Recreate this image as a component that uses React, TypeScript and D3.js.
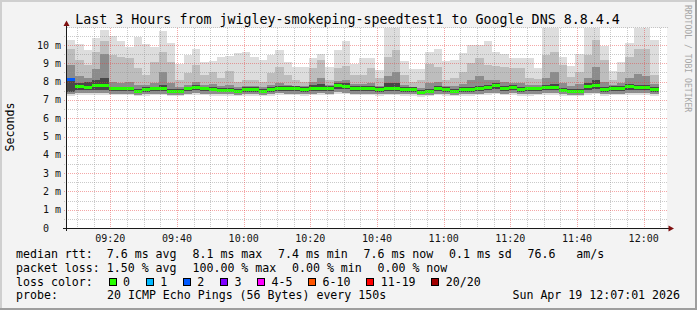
import React from "react";
import * as d3 from "d3";

const W = 697;
const H = 310;
const PLOT_LEFT = 67;
const PLOT_RIGHT = 667;
const PLOT_TOP = 28;
const PLOT_BOTTOM = 228;
const Y_MAX = 10.93;
const MONO = "'DejaVu Sans Mono', monospace";

const titleText = "Last 3 Hours from jwigley-smokeping-speedtest1 to Google DNS 8.8.4.4";
const yAxisTitle = "Seconds";
const watermark = "RRDTOOL / TOBI OETIKER";
const startTime = new Date(2026, 3, 19, 9, 7, 0);
const endTime = new Date(2026, 3, 19, 12, 7, 0);
const generatedAt = new Date(2026, 3, 19, 12, 7, 1);
const stepSeconds = 150;
const yTickValues = [0, 1, 2, 3, 4, 5, 6, 7, 8, 9, 10];

// median rtt (ms) per 150 s step
const medianRtt = [
  8.13, 7.76, 7.7, 7.78, 7.78, 7.6, 7.6, 7.6, 7.48, 7.56,
  7.6, 7.6, 7.48, 7.48, 7.6, 7.67, 7.6, 7.58, 7.54, 7.54,
  7.48, 7.56, 7.56, 7.48, 7.56, 7.65, 7.62, 7.62, 7.56, 7.62,
  7.65, 7.62, 7.81, 7.76, 7.62, 7.62, 7.62, 7.56, 7.62, 7.62,
  7.56, 7.56, 7.42, 7.48, 7.62, 7.56, 7.48, 7.56, 7.56, 7.62,
  7.67, 7.78, 7.62, 7.67, 7.56, 7.6, 7.6, 7.67, 7.67, 7.54,
  7.48, 7.48, 7.72, 7.78, 7.56, 7.62, 7.62, 7.72, 7.67, 7.67,
  7.56,
];
// highest ping of each step (outer smoke)
const pingTop = [
  10.27, 10.05, 9.72, 10.4, 10.82, 10.5, 10.24, 9.87, 10.42, 10.05,
  9.9, 10.76, 10.1, 8.96, 9.45, 9.78, 9.05, 9.1, 9.36, 9.41,
  9.54, 9.6, 9.36, 9.18, 9.45, 9.72, 9.09, 8.81, 8.81, 9.3,
  9.5, 8.81, 9.72, 10.2, 8.94, 9.3, 9.3, 8.63, 11.2, 11.2,
  9.1, 8.67, 8.67, 9.63, 9.78, 9.1, 9.18, 9.54, 10.0, 10.0,
  10.2, 9.6, 9.5, 9.3, 9.3, 9.27, 8.72, 11.2, 11.2, 9.36,
  8.87, 9.5, 11.2, 11.2, 9.97, 8.58, 9.05, 10.1, 11.2, 11.2,
  10.27,
];
// upper smoke boundary
const pingUpper = [
  9.8, 9.18, 8.9, 9.63, 10.24, 9.45, 9.36, 9.27, 8.72, 8.36,
  9.09, 9.63, 9.09, 8.09, 8.45, 8.9, 8.36, 8.54, 8.18, 8.58,
  8.0, 8.09, 8.09, 8.0, 8.45, 8.81, 8.36, 8.09, 8.0, 8.72,
  9.18, 8.09, 8.76, 8.87, 8.36, 8.36, 8.72, 8.18, 9.36, 9.72,
  8.36, 8.0, 8.09, 8.94, 8.81, 8.09, 8.18, 8.54, 9.0, 9.27,
  8.9, 8.87, 8.81, 8.72, 8.72, 8.18, 8.14, 9.45, 9.63, 8.9,
  8.27, 8.54, 9.45, 10.27, 9.18, 8.09, 8.54, 9.36, 9.8, 9.8,
  8.36,
];
// darker middle smoke boundary
const pingMid = [
  8.9, 8.3, 8.2, 8.7, 9.5, 8.0, 7.9, 8.0, 7.8, 7.8,
  7.9, 8.5, 7.9, 7.7, 7.8, 8.0, 7.8, 7.85, 7.75, 7.8,
  7.7, 7.75, 7.75, 7.7, 7.8, 7.9, 7.8, 7.78, 7.75, 8.0,
  8.2, 7.8, 8.05, 8.1, 7.85, 7.85, 7.9, 7.75, 8.3, 8.5,
  7.8, 7.72, 7.65, 7.9, 8.0, 7.75, 7.75, 7.85, 8.1, 8.3,
  8.1, 8.1, 8.0, 7.95, 7.95, 7.8, 7.8, 8.2, 8.5, 7.9,
  7.75, 7.85, 8.2, 8.8, 8.0, 7.8, 7.9, 8.2, 8.4, 8.3,
  7.85,
];
// darkest core top
const pingCore = [
  8.1, 7.95, 8.0, 8.1, 8.2, 7.72, 7.72, 7.72, 7.6, 7.68,
  7.72, 7.8, 7.6, 7.6, 7.72, 7.79, 7.72, 7.7, 7.66, 7.66,
  7.6, 7.68, 7.68, 7.6, 7.68, 7.77, 7.74, 7.74, 7.68, 7.8,
  7.85, 7.74, 7.95, 7.9, 7.74, 7.74, 7.74, 7.68, 7.9, 7.9,
  7.68, 7.68, 7.54, 7.6, 7.74, 7.68, 7.6, 7.68, 7.68, 7.76,
  7.8, 7.92, 7.76, 7.8, 7.7, 7.72, 7.72, 7.82, 7.85, 7.66,
  7.6, 7.62, 7.95, 8.1, 7.7, 7.74, 7.74, 7.85, 7.82, 7.82,
  7.68,
];
// darkest core bottom
const pingCoreLow = [
  7.45, 7.55, 7.52, 7.55, 7.55, 7.48, 7.48, 7.48, 7.38, 7.44,
  7.48, 7.48, 7.38, 7.38, 7.48, 7.52, 7.48, 7.46, 7.42, 7.42,
  7.38, 7.44, 7.44, 7.38, 7.44, 7.5, 7.48, 7.48, 7.44, 7.48,
  7.5, 7.48, 7.62, 7.58, 7.48, 7.48, 7.48, 7.44, 7.48, 7.48,
  7.44, 7.44, 7.34, 7.38, 7.48, 7.44, 7.38, 7.44, 7.44, 7.48,
  7.52, 7.6, 7.48, 7.52, 7.44, 7.46, 7.48, 7.52, 7.52, 7.42,
  7.38, 7.38, 7.56, 7.6, 7.44, 7.48, 7.48, 7.56, 7.52, 7.52,
  7.44,
];
// lower inner smoke boundary
const pingLowInner = [
  7.34, 7.38, 7.36, 7.38, 7.38, 7.34, 7.34, 7.34, 7.28, 7.32,
  7.34, 7.34, 7.28, 7.28, 7.34, 7.36, 7.34, 7.33, 7.31, 7.31,
  7.28, 7.32, 7.32, 7.28, 7.32, 7.36, 7.34, 7.34, 7.32, 7.34,
  7.36, 7.34, 7.42, 7.4, 7.34, 7.34, 7.34, 7.32, 7.34, 7.34,
  7.32, 7.32, 7.26, 7.28, 7.34, 7.32, 7.28, 7.32, 7.32, 7.34,
  7.36, 7.4, 7.34, 7.36, 7.32, 7.33, 7.34, 7.36, 7.36, 7.31,
  7.28, 7.28, 7.38, 7.4, 7.32, 7.34, 7.34, 7.38, 7.36, 7.36,
  7.32,
];
// lowest ping of each step
const pingBottom = [
  7.24, 7.28, 7.27, 7.28, 7.28, 7.25, 7.25, 7.25, 7.19, 7.23,
  7.25, 7.25, 7.19, 7.19, 7.25, 7.27, 7.25, 7.24, 7.22, 7.22,
  7.19, 7.23, 7.23, 7.19, 7.23, 7.27, 7.25, 7.25, 7.23, 7.25,
  7.27, 7.25, 7.32, 7.3, 7.25, 7.25, 7.25, 7.23, 7.25, 7.25,
  7.23, 7.23, 7.17, 7.19, 7.25, 7.23, 7.19, 7.23, 7.23, 7.25,
  7.27, 7.3, 7.25, 7.27, 7.23, 7.24, 7.25, 7.27, 7.27, 7.22,
  7.19, 7.19, 7.28, 7.3, 7.23, 7.25, 7.25, 7.28, 7.27, 7.27,
  7.23,
];
// lost pings (of 20) per step; last step has no data
const lossCount = [
  2, 0, 0, 0, 0, 0, 0, 0, 0, 0, 0, 0, 0, 0, 0, 0, 0, 0, 0, 0,
  0, 0, 0, 0, 0, 0, 0, 0, 0, 0, 0, 0, 0, 0, 0, 0, 0, 0, 0, 0,
  0, 0, 0, 0, 0, 0, 0, 0, 0, 0, 0, 0, 0, 0, 0, 0, 0, 0, 0, 0,
  0, 0, 0, 0, 0, 0, 0, 0, 0, 0, 0, 20,
];

const lossLabels = ["0", "1", "2", "3", "4-5", "6-10", "11-19", "20/20"];
const lossColors = ["#26ff00", "#00b8ff", "#0059ff", "#7e00ff", "#ff00ff", "#ff5500", "#ff0000", "#a10000"];
const lossBucketMax = [0, 1, 2, 3, 5, 10, 19, 20];

const legendRow1 = ["median rtt:  7.6 ms avg", "8.1 ms max", "7.4 ms min", "7.6 ms now", "0.1 ms sd", "76.6   am/s"];
const legendRow2 = ["packet loss: 1.50 % avg", "100.00 % max", "0.00 % min", "0.00 % now"];
const legendRow3Label = "loss color:";
const probeLabel = "probe:";
const probeText = "20 ICMP Echo Pings (56 Bytes) every 150s";

const smokeLayers = [
  { lo: pingBottom, hi: pingTop, color: "#dddddd" },
  { lo: pingLowInner, hi: pingUpper, color: "#bdbdbd" },
  { lo: pingLowInner, hi: pingMid, color: "#8c8c8c" },
  { lo: pingCoreLow, hi: pingCore, color: "#484848" },
];

const CW = 7; // legend char advance
const GAP = 15.5;
const LX = 16;

const pre = (s: string) => s.replace(/ /g, "\u00a0");

function lossColor(c: number) {
  const i = lossBucketMax.findIndex((m) => c <= m);
  return lossColors[i < 0 ? lossColors.length - 1 : i];
}

export default function App() {
  const x = d3.scaleTime().domain([startTime, endTime]).range([PLOT_LEFT, PLOT_RIGHT]);
  const y = d3.scaleLinear().domain([0, Y_MAX]).range([PLOT_BOTTOM, PLOT_TOP]);
  const stepT = (i: number) => new Date(startTime.getTime() + i * stepSeconds * 1000);

  const majorX = x.ticks(d3.timeMinute.every(20) as any);
  const minorX = x.ticks(d3.timeMinute.every(5) as any).filter((t: Date) => t.getMinutes() % 20 !== 0);
  const halfTicks = d3.range(0, 22).map((k) => k * 0.5).filter((v) => v <= Y_MAX);
  const majorY = halfTicks.filter((v) => v > 0 && Number.isInteger(v));
  const minorY = halfTicks.filter((v) => !Number.isInteger(v));
  const fmt = d3.timeFormat("%H:%M");
  const dateFmt = d3.timeFormat("%a %b %d %H:%M:%S %Y");

  const crisp = (v: number) => Math.round(v) + 0.5;

  const rowPositions = (items: string[]) => {
    let chars = 0;
    return items.map((s, k) => {
      const px = LX + chars * CW + k * GAP;
      chars += s.length;
      return px;
    });
  };
  const r1 = rowPositions(legendRow1);
  const r2 = rowPositions(legendRow2);
  const lossItems: { bx: number; tx: number; label: string; color: string }[] = [];
  let cx = LX + legendRow3Label.length * CW + GAP;
  lossLabels.forEach((lab, k) => {
    lossItems.push({ bx: cx, tx: cx + 14.6, label: lab, color: lossColors[k] });
    cx = cx + 14.6 + lab.length * CW + GAP;
  });

  const axisLabelSize = 10;
  const axisCW = axisLabelSize * 0.602;

  return (
    <svg
      width={W}
      height={H}
      style={{ position: "absolute", left: 0, top: 0, display: "block" }}
      fontFamily={MONO}
    >
      <defs>
        <clipPath id="plotclip">
          <rect x={PLOT_LEFT} y={PLOT_TOP} width={PLOT_RIGHT - PLOT_LEFT} height={PLOT_BOTTOM - PLOT_TOP} />
        </clipPath>
      </defs>
      <rect x={0} y={0} width={W} height={H} fill="#f3f3f3" />
      <rect x={0} y={0} width={W} height={2} fill="#cfcfcf" />
      <rect x={0} y={0} width={2} height={H} fill="#cfcfcf" />
      <rect x={0} y={H - 2} width={W} height={2} fill="#9e9e9e" />
      <rect x={W - 2} y={0} width={2} height={H} fill="#9e9e9e" />

      <rect x={PLOT_LEFT} y={PLOT_TOP} width={PLOT_RIGHT - PLOT_LEFT} height={PLOT_BOTTOM - PLOT_TOP} fill="#ffffff" />

      <g clipPath="url(#plotclip)" shapeRendering="crispEdges">
        {smokeLayers.map((layer, li) => (
          <g key={li}>
            {medianRtt.map((_, i) => {
              const x0 = x(stepT(i));
              const x1 = x(stepT(i + 1));
              const yt = y(layer.hi[i]);
              const yb = y(layer.lo[i]);
              return <rect key={i} x={x0} y={yt} width={x1 - x0} height={Math.max(0, yb - yt)} fill={layer.color} />;
            })}
          </g>
        ))}
        {medianRtt.map((m, i) => {
          const x0 = x(stepT(i));
          const x1 = x(stepT(i + 1));
          return <rect key={i} x={x0} y={y(m) - 1.5} width={x1 - x0} height={3} fill={lossColor(lossCount[i])} />;
        })}
      </g>

      {/* grid */}
      <g fill="none" strokeWidth={1} strokeDasharray="1,1">
        {minorY.map((v) => (
          <line key={"my" + v} x1={PLOT_LEFT - 3} x2={PLOT_RIGHT + 1} y1={crisp(y(v))} y2={crisp(y(v))} stroke="rgba(150,150,150,0.5)" />
        ))}
        {minorX.map((t: Date) => (
          <line key={"mx" + t.getTime()} x1={crisp(x(t))} x2={crisp(x(t))} y1={PLOT_TOP} y2={PLOT_BOTTOM + 2} stroke="rgba(150,150,150,0.5)" />
        ))}
        <line x1={PLOT_LEFT} x2={PLOT_RIGHT + 1} y1={PLOT_TOP - 0.5} y2={PLOT_TOP - 0.5} stroke="rgba(150,150,150,0.5)" />
        {majorY.map((v) => (
          <line key={"My" + v} x1={PLOT_LEFT - 3} x2={PLOT_RIGHT + 1} y1={crisp(y(v))} y2={crisp(y(v))} stroke="rgba(230,60,60,0.45)" />
        ))}
        {majorX.map((t: Date) => (
          <line key={"Mx" + t.getTime()} x1={crisp(x(t))} x2={crisp(x(t))} y1={PLOT_TOP} y2={PLOT_BOTTOM + 2} stroke="rgba(230,60,60,0.45)" />
        ))}
      </g>

      {/* axes */}
      <line x1={PLOT_LEFT - 4} x2={PLOT_RIGHT + 2} y1={PLOT_BOTTOM + 0.5} y2={PLOT_BOTTOM + 0.5} stroke="#1a1a1a" />
      <line x1={PLOT_LEFT - 0.5} x2={PLOT_LEFT - 0.5} y1={PLOT_BOTTOM + 3} y2={PLOT_TOP - 4} stroke="#1a1a1a" />
      <path d={`M${PLOT_LEFT - 0.5},20.5 L${PLOT_LEFT - 3.5},26 L${PLOT_LEFT + 2.5},26 Z`} fill="#7f1010" />
      <path d={`M${PLOT_RIGHT + 7},${PLOT_BOTTOM + 0.5} L${PLOT_RIGHT + 1.5},${PLOT_BOTTOM - 2.5} L${PLOT_RIGHT + 1.5},${PLOT_BOTTOM + 3.5} Z`} fill="#7f1010" />

      {/* tick labels */}
      <g fontSize={axisLabelSize} fill="#111">
        {yTickValues.map((v) => {
          const label = v === 0 ? "0" : `${v} m`;
          const xr = v === 0 ? 61 - 2 * axisCW : 61;
          return (
            <text key={v} x={xr} y={y(v) + 3.5} textAnchor="end">
              {pre(label)}
            </text>
          );
        })}
        {majorX.map((t: Date) => (
          <text key={t.getTime()} x={x(t)} y={241.5} textAnchor="middle">
            {fmt(t)}
          </text>
        ))}
      </g>

      <text x={347.5} y={23.5} fontSize={13.3} textAnchor="middle" fill="#000">
        {titleText}
      </text>

      <text transform="translate(14,127) rotate(-90)" fontSize={11.6} textAnchor="middle" fill="#000">
        {yAxisTitle}
      </text>

      <text transform="translate(685,5) rotate(90)" fontSize={8.1} fill="#a6a6a6">
        {watermark}
      </text>

      {/* legend */}
      <g fontSize={11.6} fill="#000">
        {legendRow1.map((s, k) => (
          <text key={"a" + k} x={r1[k]} y={258}>
            {pre(s)}
          </text>
        ))}
        {legendRow2.map((s, k) => (
          <text key={"b" + k} x={r2[k]} y={271.7}>
            {pre(s)}
          </text>
        ))}
        <text x={LX} y={285.7}>
          {pre(legendRow3Label)}
        </text>
        {lossItems.map((it, k) => (
          <g key={"c" + k}>
            <rect x={Math.round(it.bx) + 0.5} y={278.5} width={7} height={7} fill={it.color} stroke="#000" strokeWidth={1} />
            <text x={it.tx} y={285.7}>
              {it.label}
            </text>
          </g>
        ))}
        <text x={LX} y={299.3}>
          {probeLabel}
        </text>
        <text x={LX + 13 * CW} y={299.3}>
          {pre(probeText)}
        </text>
        <text x={680} y={299.3} textAnchor="end">
          {pre(dateFmt(generatedAt))}
        </text>
      </g>
    </svg>
  );
}
